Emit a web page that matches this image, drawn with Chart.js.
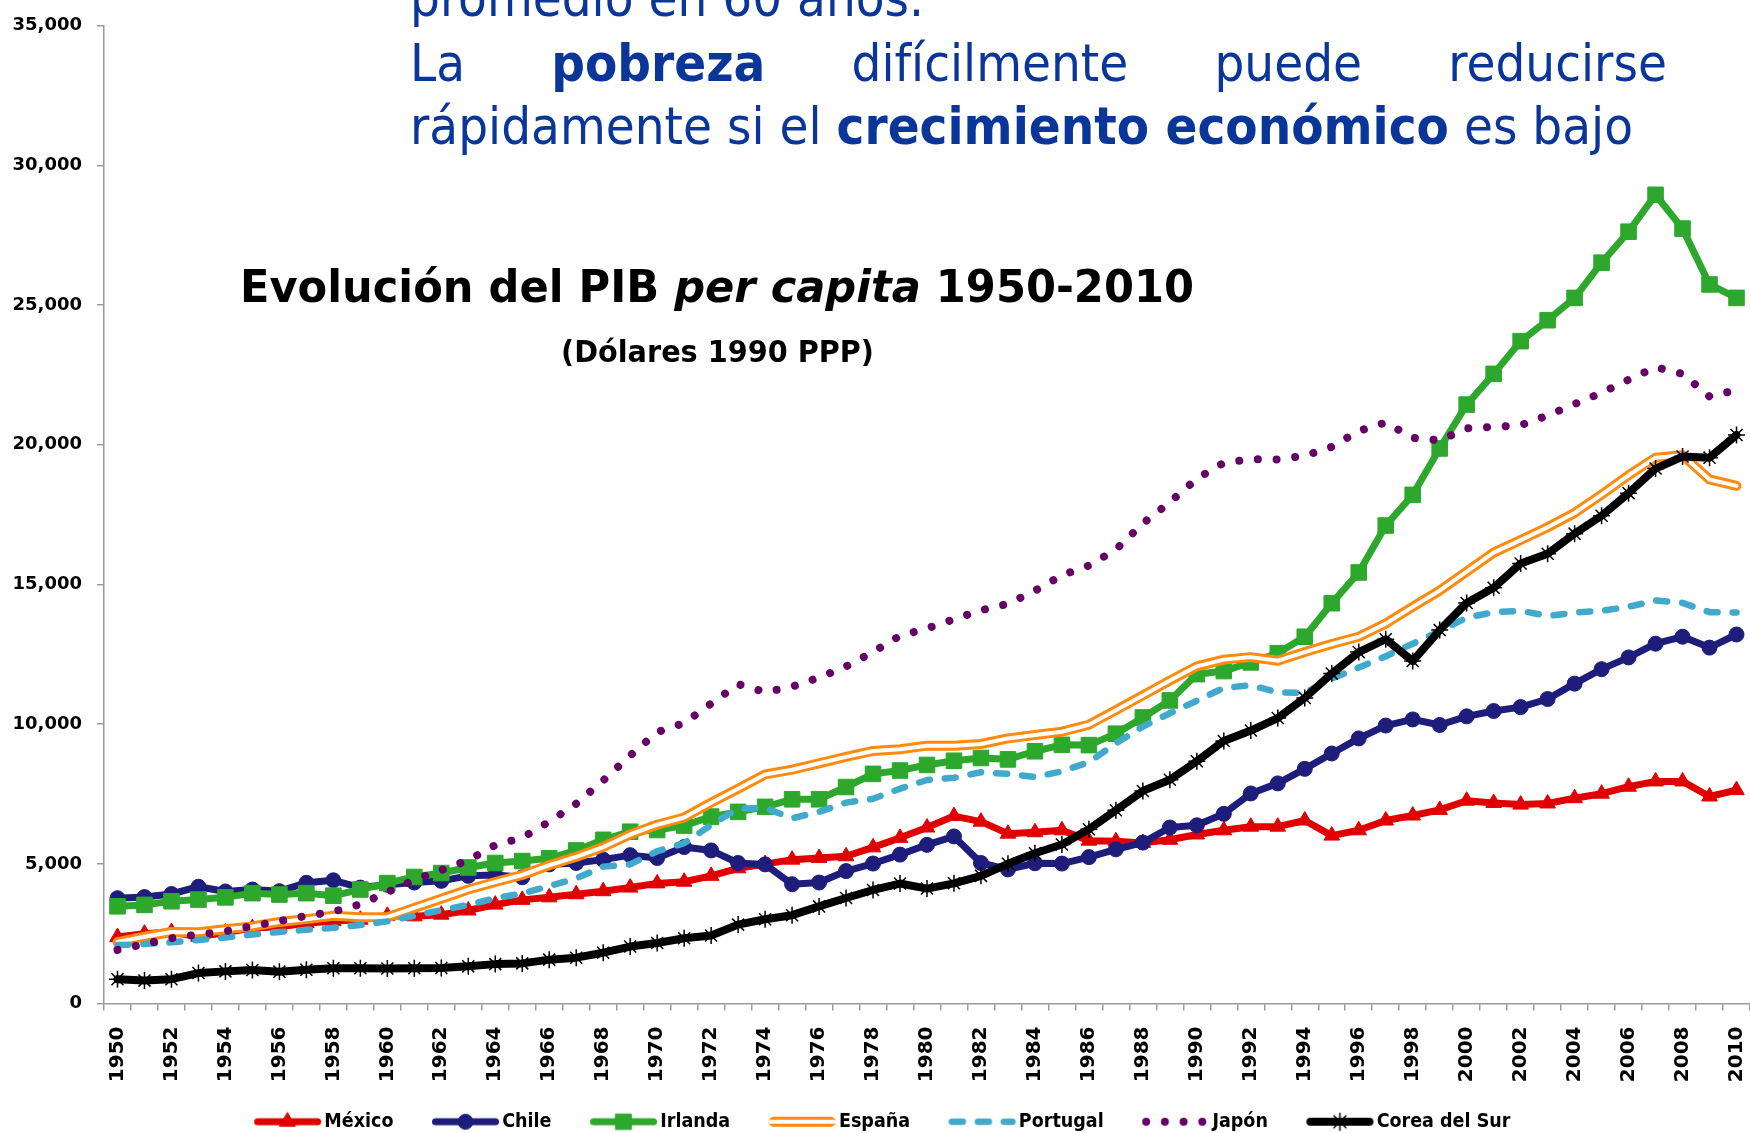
<!DOCTYPE html>
<html lang="es">
<head>
<meta charset="utf-8">
<title>Evolución del PIB per capita 1950-2010</title>
<script src="https://cdn.jsdelivr.net/npm/chart.js@4.4.1/dist/chart.umd.min.js"></script>
<style>
  html, body { margin: 0; padding: 0; background: #fff; }
  #stage { position: relative; width: 1750px; height: 1133px; overflow: hidden; }
  #gdpChart { position: absolute; left: 0; top: 0; }
  .note, .title { position: absolute; white-space: nowrap; transform-origin: 0 0; line-height: 1; }
  .note { font-family: 'DejaVu Sans Condensed', 'DejaVu Sans', sans-serif; font-stretch: condensed; color: #0a3699; }
  .note b { font-weight: bold; }
  #note1 { display: flex; justify-content: space-between; }
  .title { font-family: 'DejaVu Sans', sans-serif; font-weight: bold; color: #000; }
</style>
</head>
<body>
<div id="stage">
  <canvas id="gdpChart" width="1750" height="1133"></canvas>
  <div class="note" id="note0">promedio en 60 años.</div>
  <div class="note" id="note1"><span>La</span><b>pobreza</b><span>difícilmente</span><span>puede</span><span>reducirse</span></div>
  <div class="note" id="note2">rápidamente si el <b>crecimiento económico</b> es bajo</div>
  <div class="title" id="title">Evolución del PIB <i>per capita</i> 1950-2010</div>
  <div class="title" id="subtitle">(Dólares 1990 PPP)</div>
</div>
<script>
const years = [
  '1950', '1951', '1952', '1953', '1954', '1955', '1956', '1957', '1958', '1959',
  '1960', '1961', '1962', '1963', '1964', '1965', '1966', '1967', '1968', '1969',
  '1970', '1971', '1972', '1973', '1974', '1975', '1976', '1977', '1978', '1979',
  '1980', '1981', '1982', '1983', '1984', '1985', '1986', '1987', '1988', '1989',
  '1990', '1991', '1992', '1993', '1994', '1995', '1996', '1997', '1998', '1999',
  '2000', '2001', '2002', '2003', '2004', '2005', '2006', '2007', '2008', '2009',
  '2010'
];
const yearTicks = [
  '1950', '1952', '1954', '1956', '1958', '1960', '1962', '1964', '1966', '1968',
  '1970', '1972', '1974', '1976', '1978', '1980', '1982', '1984', '1986', '1988',
  '1990', '1992', '1994', '1996', '1998', '2000', '2002', '2004', '2006', '2008', '2010'
];
const valueTicks = [0, 5000, 10000, 15000, 20000, 25000, 30000, 35000];

// PIB per capita, dólares 1990 PPP
const mexico = [
  2380, 2500, 2560, 2390, 2540, 2700, 2750, 2870, 2950, 3000,
  3140, 3120, 3180, 3330, 3540, 3710, 3800, 3910, 4020, 4150,
  4300, 4360, 4570, 4840, 4990, 5150, 5210, 5270, 5590, 5930,
  6300, 6710, 6510, 6080, 6130, 6200, 5830, 5810, 5750, 5860,
  6050, 6200, 6330, 6330, 6550, 6010, 6200, 6550, 6730, 6930,
  7260, 7180, 7120, 7160, 7350, 7510, 7760, 7950, 7950, 7410,
  7640
];
const chile = [
  3770, 3810, 3920, 4180, 4010, 4080, 4020, 4320, 4410, 4150,
  4250, 4330, 4390, 4570, 4600, 4520, 4980, 5030, 5150, 5310,
  5210, 5600, 5480, 5030, 4980, 4270, 4330, 4740, 5010, 5330,
  5680, 5980, 5030, 4800, 5020, 5010, 5240, 5520, 5760, 6300,
  6380, 6790, 7520, 7880, 8400, 8950, 9490, 9950, 10170, 9970,
  10280, 10470, 10610, 10900, 11450, 11970, 12390, 12880, 13130, 12740,
  13210
];
const ireland = [
  3480, 3530, 3660, 3720, 3800, 3950, 3900, 3950, 3860, 4080,
  4310, 4530, 4670, 4870, 5030, 5100, 5200, 5480, 5860, 6150,
  6210, 6370, 6690, 6860, 7040, 7310, 7310, 7750, 8220, 8340,
  8540, 8690, 8790, 8740, 9030, 9260, 9250, 9660, 10240, 10850,
  11790, 11900, 12210, 12540, 13130, 14330, 15430, 17110, 18210, 19870,
  21440, 22540, 23710, 24460, 25260, 26520, 27630, 28950, 27740, 25740,
  25260
];
const spain = [
  2200, 2390, 2560, 2550, 2660, 2760, 2920, 3020, 3140, 3090,
  3090, 3420, 3750, 4080, 4350, 4600, 4950, 5250, 5600, 6050,
  6400, 6660, 7190, 7690, 8200, 8370, 8600, 8830, 9040, 9100,
  9230, 9230, 9290, 9490, 9610, 9730, 9980, 10500, 11030, 11560,
  12070, 12310, 12400, 12270, 12580, 12870, 13130, 13600, 14200, 14780,
  15460, 16140, 16590, 17050, 17560, 18220, 18910, 19540, 19630, 18760,
  18530
];
const portugal = [
  2090, 2130, 2190, 2270, 2360, 2470, 2560, 2640, 2710, 2810,
  2940, 3140, 3340, 3530, 3770, 3940, 4200, 4480, 4900, 4980,
  5450, 5740, 6390, 6980, 7000, 6630, 6860, 7190, 7330, 7690,
  8000, 8080, 8280, 8220, 8110, 8310, 8640, 9310, 9910, 10390,
  10840, 11300, 11390, 11140, 11120, 11630, 12030, 12430, 12880, 13330,
  13810, 14010, 14060, 13870, 13990, 14060, 14200, 14430, 14340, 14010,
  14000
];
const japan = [
  1921, 2126, 2336, 2474, 2582, 2771, 2948, 3136, 3289, 3554,
  3986, 4426, 4777, 5129, 5668, 5934, 6506, 7152, 7983, 8874,
  9714, 10040, 10734, 11434, 11145, 11344, 11669, 12064, 12585, 13163,
  13428, 13754, 14078, 14307, 14773, 15331, 15679, 16251, 17185, 17943,
  18789, 19355, 19482, 19478, 19607, 19925, 20494, 20800, 20250, 20160,
  20590, 20640, 20700, 21050, 21460, 21860, 22330, 22780, 22540, 21730,
  21960
];
const korea = [
  870, 820, 870, 1090, 1150, 1200, 1140, 1210, 1260, 1260,
  1250, 1260, 1270, 1330, 1410, 1436, 1570, 1640, 1818, 2039,
  2167, 2337, 2436, 2824, 3015, 3162, 3476, 3775, 4064, 4294,
  4114, 4302, 4570, 5000, 5380, 5690, 6240, 6920, 7610, 8010,
  8670, 9400, 9770, 10220, 10940, 11810, 12580, 13040, 12260, 13370,
  14340, 14880, 15750, 16100, 16820, 17460, 18270, 19150, 19580, 19540,
  20350
];

const series = [
  { name: 'México', values: mexico, color: '#e00000', width: 7, point: 'triangle', radius: 9 },
  { name: 'Chile', values: chile, color: '#1f1d7c', width: 7, point: 'circle', radius: 7.5 },
  { name: 'Irlanda', values: ireland, color: '#2da82d', width: 7, point: 'rect', radius: 11 },
  { name: 'España', values: spain, color: '#ff8a0d', width: 10, inner: 4 },
  { name: 'Portugal', values: portugal, color: '#41a9cc', width: 6.5, dash: [11, 15] },
  { name: 'Japón', values: japan, color: '#660066', width: 8, dash: [0.01, 18.7] },
  { name: 'Corea del Sur', values: korea, color: '#000000', width: 8, point: 'star', radius: 8.5, pointBorder: 1.5 }
];

const datasets = [];
series.forEach((s, i) => {
  datasets.push({
    label: s.name,
    data: s.values,
    borderColor: s.color,
    backgroundColor: s.color,
    borderWidth: s.width,
    borderDash: s.dash || [],
    borderCapStyle: 'round',
    borderJoinStyle: 'round',
    pointStyle: s.point || 'circle',
    pointRadius: s.point ? s.radius : 0,
    pointBorderWidth: s.pointBorder || 1,
    pointBackgroundColor: s.color,
    pointBorderColor: s.color,
    tension: 0,
    fill: false,
    order: 20 - i * 2
  });
  if (s.inner) {
    datasets.push({
      label: s.name + ' (interior)',
      data: s.values,
      borderColor: '#ffffff',
      borderWidth: s.inner,
      borderCapStyle: 'round',
      borderJoinStyle: 'round',
      pointRadius: 0,
      tension: 0,
      fill: false,
      order: 19 - i * 2
    });
  }
});

// line + marker sample for each legend entry; the line sits on the right
// part of the (wide) legend box so it ends right before the label
function legendIcon(s) {
  const c = document.createElement('canvas');
  c.width = 104;
  c.height = 28;
  const ctx = c.getContext('2d');
  const y = 14;
  ctx.lineCap = 'round';
  ctx.lineJoin = 'round';
  const stroke = (color, w, dash) => {
    ctx.strokeStyle = color;
    ctx.lineWidth = w;
    ctx.setLineDash(dash || []);
    ctx.beginPath();
    ctx.moveTo(36 + w / 2, y);
    ctx.lineTo(103 - w / 2, y);
    ctx.stroke();
  };
  stroke(s.color, s.width, s.dash);
  if (s.inner) stroke('#ffffff', s.inner);
  if (s.point) {
    ctx.setLineDash([]);
    ctx.fillStyle = s.color;
    ctx.strokeStyle = s.color;
    ctx.lineWidth = s.pointBorder || 1;
    Chart.helpers.drawPoint(ctx, { pointStyle: s.point, radius: s.radius, rotation: 0, borderWidth: ctx.lineWidth }, 69.5, y);
  }
  return c;
}

const nudgeLegend = {
  id: 'nudgeLegend',
  afterLayout(chart) {
    const lg = chart.legend;
    lg.top += 8.5;
    lg.bottom += 8.5;
    lg.left -= 7;
    lg.right -= 7;
  }
};

function drawChart() {
  new Chart(document.getElementById('gdpChart'), {
    type: 'line',
    data: { labels: years, datasets },
    plugins: [nudgeLegend],
    options: {
      responsive: false,
      animation: false,
      layout: { autoPadding: false, padding: { top: 20, right: 0, bottom: 0, left: 0 } },
      plugins: {
        tooltip: { enabled: false },
        legend: {
          position: 'bottom',
          labels: {
            usePointStyle: true,
            pointStyleWidth: 89,
            padding: 10,
            color: '#000',
            font: { family: 'DejaVu Sans Condensed', weight: 'bold', size: 19.5 },
            generateLabels: () => series.map((s, i) => ({
              text: s.name,
              pointStyle: legendIcon(s),
              fillStyle: s.color,
              strokeStyle: s.color,
              lineWidth: 0,
              hidden: false,
              fontColor: '#000',
              datasetIndex: i
            }))
          }
        }
      },
      scales: {
        x: {
          type: 'category',
          offset: true,
          grid: { offset: true, drawOnChartArea: false, drawTicks: true, tickLength: 7, color: '#9a9a9a', lineWidth: 1.5 },
          border: { color: '#9a9a9a', width: 1.5 },
          ticks: {
            autoSkip: false,
            maxRotation: 90,
            minRotation: 90,
            padding: 16,
            color: '#000',
            font: { family: 'DejaVu Sans', weight: 'bold', size: 20 },
            callback: (v, i) => (yearTicks.includes(years[i]) ? years[i] : '')
          },
          afterFit: (scale) => {
            scale.height = 90;
            scale.paddingLeft = 0;
            scale.paddingRight = 0;
          }
        },
        y: {
          min: 0,
          max: 35000,
          afterBuildTicks: (scale) => { scale.ticks = valueTicks.map((v) => ({ value: v })); },
          grid: { drawOnChartArea: false, drawTicks: true, tickLength: 7, color: '#9a9a9a', lineWidth: 1.5 },
          border: { color: '#9a9a9a', width: 1.5 },
          ticks: {
            padding: 15,
            color: '#000',
            font: { family: 'DejaVu Sans', weight: 'bold', size: 18 },
            callback: (v) => Number(v).toLocaleString('en-US')
          },
          afterFit: (scale) => { scale.width = 104; }
        }
      }
    }
  });
}

// text blocks: font size, left edge, baseline, target width
const BASE = 0.846;
function place(id, size, left, baseline, width) {
  const el = document.getElementById(id);
  el.style.fontSize = size + 'px';
  el.style.left = left + 'px';
  el.style.top = (baseline - BASE * size) + 'px';
  if (!width) return 1;
  const natural = el.getBoundingClientRect().width;
  const f = width / natural;
  el.style.transform = 'scaleX(' + f + ')';
  return f;
}

function layoutText() {
  const f = place('note2', 52, 410, 143.5, 1223);
  const n0 = document.getElementById('note0');
  place('note0', 52, 410, 15.5);
  n0.style.transform = 'scaleX(' + f + ')';
  const n1 = document.getElementById('note1');
  n1.style.width = (1257 / f) + 'px';
  place('note1', 52, 410, 80.5);
  n1.style.transform = 'scaleX(' + f + ')';
  place('title', 45, 240, 302.5, 954);
  place('subtitle', 31, 561, 362.5, 313);
}

document.fonts.ready.then(() => {
  layoutText();
  drawChart();
});
</script>
</body>
</html>
